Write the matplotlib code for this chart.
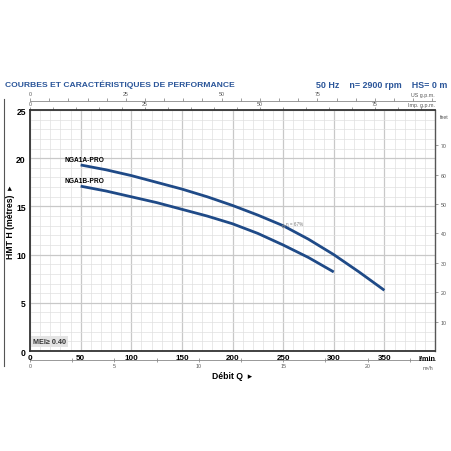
import matplotlib.pyplot as plt
from matplotlib.ticker import MultipleLocator, FixedLocator

# -----------------------------
# Data
# -----------------------------
q_a = [50, 75, 100, 125, 150, 175, 200, 225, 250, 275, 300, 325, 350]   # l/min
h_a = [19.3, 18.8, 18.2, 17.5, 16.8, 16.0, 15.1, 14.1, 13.0, 11.6, 10.0, 8.2, 6.3]
q_b = [50, 75, 100, 125, 150, 175, 200, 225, 250, 275, 300]
h_b = [17.1, 16.6, 16.0, 15.4, 14.7, 14.0, 13.2, 12.2, 11.0, 9.7, 8.2]
names = ['NGA1A-PRO', 'NGA1B-PRO']
eff_q, eff_h, eff_label = 250, 13.0, 'η = 67%'

x_ticks = [0, 50, 100, 150, 200, 250, 300, 350]
y_ticks = [0, 5, 10, 15, 20, 25]
us_ticks = [0, 25, 50, 75]
imp_ticks = [0, 25, 50, 75]
m3h_ticks = [0, 5, 10, 15, 20]
ft_ticks = [10, 20, 30, 40, 50, 60, 70]

LPM_US = 0.264172
LPM_IMP = 0.219969
LPM_M3H = 0.06
M_FT = 3.28084

blue = '#1f4a87'
title_blue = '#2a5599'
grey = '#555555'

plt.rcParams['font.family'] = ['Liberation Sans', 'DejaVu Sans']

fig = plt.figure(figsize=(4.52, 4.52), dpi=100)
ax = fig.add_axes([0.0664, 0.2212, 0.896, 0.5332])
ax.set_xlim(0, 400)
ax.set_ylim(0, 25)

# grid
ax.xaxis.set_major_locator(FixedLocator(x_ticks))
ax.xaxis.set_minor_locator(MultipleLocator(10))
ax.yaxis.set_major_locator(FixedLocator(y_ticks))
ax.yaxis.set_minor_locator(MultipleLocator(1))
ax.grid(which='minor', color='#e0e0e0', lw=0.5)
ax.grid(which='major', color='#c8c8c8', lw=0.9)
ax.set_axisbelow(True)
ax.tick_params(which='both', length=0)
ax.tick_params(axis='x', pad=2, labelsize=5.8)
ax.tick_params(axis='y', pad=3, labelsize=6.2)
for lab in ax.get_xticklabels() + ax.get_yticklabels():
    lab.set_fontweight('bold')

for s in ['left', 'bottom', 'top']:
    ax.spines[s].set_linewidth(1.3)
    ax.spines[s].set_color('#333333')
ax.spines['right'].set_linewidth(1.0)
ax.spines['right'].set_color('#555555')

# curves
ax.plot(q_a, h_a, color=blue, lw=2.0, solid_capstyle='butt')
ax.plot(q_b, h_b, color=blue, lw=2.0, solid_capstyle='butt')
ax.text(q_a[0] - 16, h_a[0] + 0.2, names[0], fontsize=4.8, fontweight='bold', va='bottom', ha='left')
ax.text(q_b[0] - 16, h_b[0] + 0.2, names[1], fontsize=4.8, fontweight='bold', va='bottom', ha='left')
ax.plot([eff_q], [eff_h], 'o', ms=2, mfc='none', mec='#888888', mew=0.5)
ax.text(eff_q + 3, eff_h + 0.2, eff_label, fontsize=3.3, color='#777777', va='center')

ax.text(3, 0.95, 'MEI≥ 0.40', fontsize=5.2, fontweight='bold', color='#333333', va='center',
        bbox=dict(facecolor='#e4e4e4', edgecolor='none', pad=1.5))

# l/min unit
ax.text(392, -0.45, 'l/min', fontsize=5.2, fontweight='bold', ha='center', va='top')

# top US g.p.m. axis
us = ax.secondary_xaxis(1.039, functions=(lambda x: x * LPM_US, lambda x: x / LPM_US))
us.xaxis.set_major_locator(FixedLocator(us_ticks))
us.xaxis.set_minor_locator(MultipleLocator(5))
us.tick_params(which='both', direction='out', length=2, width=0.5, color='#777777', labelsize=3.8, labelcolor=grey, pad=1)
us.spines['top'].set_color('#888888')
us.spines['top'].set_linewidth(0.6)

# top Imp g.p.m. axis
imp = ax.secondary_xaxis('top', functions=(lambda x: x * LPM_IMP, lambda x: x / LPM_IMP))
imp.xaxis.set_major_locator(FixedLocator(imp_ticks))
imp.xaxis.set_minor_locator(MultipleLocator(5))
imp.tick_params(which='both', direction='out', length=2, width=0.5, color='#777777', labelsize=3.8, labelcolor=grey, pad=1)
imp.spines['top'].set_visible(False)

ax.text(1.0, 1.052, 'US g.p.m.', transform=ax.transAxes, fontsize=3.8, color=grey, ha='right', va='bottom')
ax.text(1.0, 1.012, 'Imp. g.p.m.', transform=ax.transAxes, fontsize=3.8, color=grey, ha='right', va='bottom')

# bottom m3/h axis
m3 = ax.secondary_xaxis(-0.036, functions=(lambda x: x * LPM_M3H, lambda x: x / LPM_M3H))
m3.xaxis.set_major_locator(FixedLocator(m3h_ticks))
m3.xaxis.set_minor_locator(MultipleLocator(2.5))
m3.tick_params(which='both', direction='inout', length=3, width=0.5, color='#777777', labelsize=3.8, labelcolor=grey, pad=1)
m3.spines['bottom'].set_color('#888888')
m3.spines['bottom'].set_linewidth(0.6)
ax.text(0.995, -0.058, 'm³/h', transform=ax.transAxes, fontsize=3.8, color=grey, ha='right', va='top')

# right feet axis
ft = ax.secondary_yaxis('right', functions=(lambda y: y * M_FT, lambda y: y / M_FT))
ft.yaxis.set_major_locator(FixedLocator(ft_ticks))
ft.tick_params(direction='out', length=2, width=0.5, color='#777777', labelsize=3.8, labelcolor=grey, pad=2)
ft.spines['right'].set_visible(False)
ax.text(1.012, 0.975, 'feet', transform=ax.transAxes, fontsize=3.8, color=grey, ha='left', va='center')

# labels
fig.text(232 / 452, 1 - 377 / 452, 'Débit Q  ▸', fontsize=6.2, fontweight='bold', ha='center', va='center')
fig.text(11 / 452, 1 - 222 / 452, 'HMT H (mètres)  ▸', fontsize=6.2, fontweight='bold',
         rotation=90, ha='center', va='center')
fig.add_artist(plt.Line2D([4 / 452, 4 / 452], [1 - 100 / 452, 1 - 367 / 452], color='#555555', lw=0.8))

fig.text(5 / 452, 1 - 85 / 452, 'COURBES ET CARACTÉRISTIQUES DE PERFORMANCE', fontsize=6.1,
         fontweight='bold', color=title_blue, ha='left', va='center')
fig.text(447 / 452, 1 - 85 / 452, '50 Hz    n= 2900 rpm    HS= 0 m', fontsize=6.4,
         fontweight='bold', color=title_blue, ha='right', va='center')

fig.savefig('out.png', dpi=100, facecolor='white')
